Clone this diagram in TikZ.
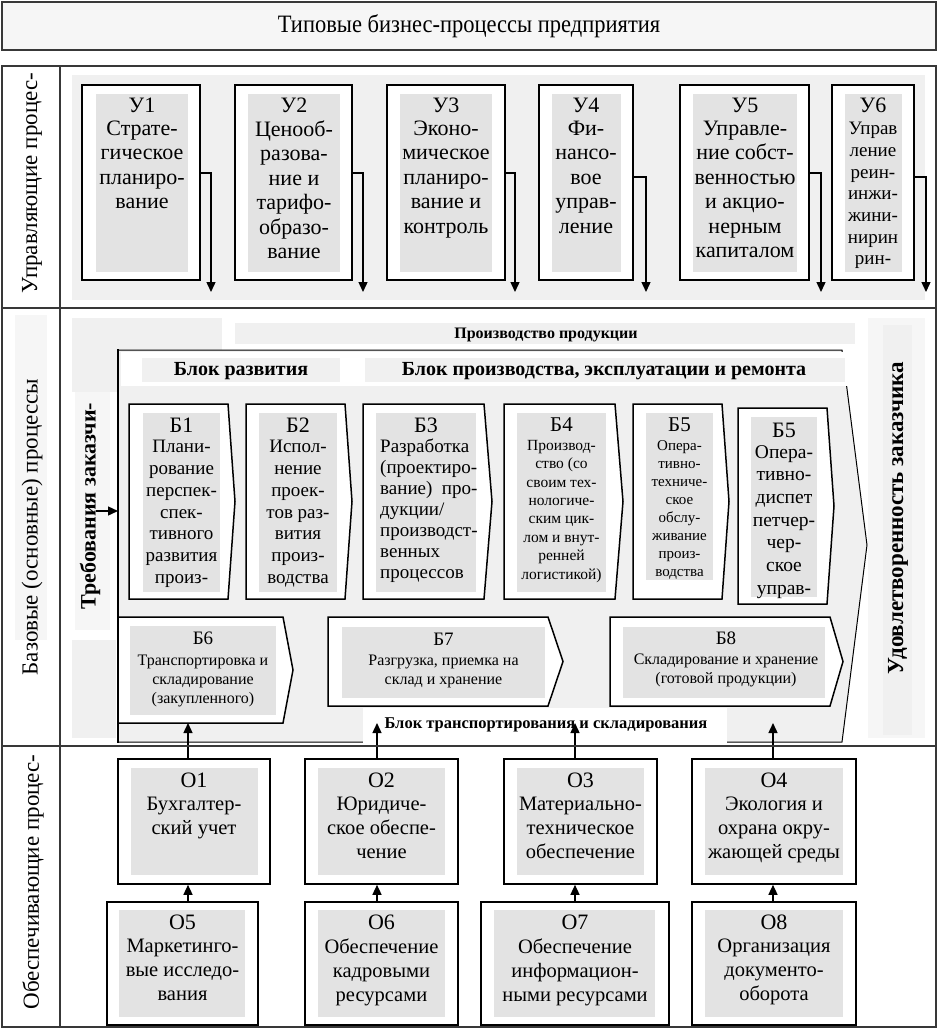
\documentclass[tikz,border=0pt]{standalone}
\usepackage{fontspec}
\setmainfont{Liberation Serif}
\usetikzlibrary{arrows.meta,fit}
\definecolor{ingray}{gray}{0.89}
\definecolor{bggray}{gray}{0.94}
\definecolor{lgray}{gray}{0.965}
\definecolor{secline}{gray}{0.22}
\newcommand\myfs[2]{\fontsize{#1}{#2}\selectfont}
\tikzset{
  sec/.style={draw=secline, line width=1.5pt, inner sep=0pt, rectangle},
  sline/.style={draw=secline, line width=1.5pt},
  obox/.style={draw=black, line width=1.6pt, fill=white, inner sep=0pt, rectangle},
  chev/.style={draw=black, line width=1.5pt, fill=white},
  arr/.style={line width=1.4pt, -{Triangle[length=10pt,width=9pt]}},
  lbl/.style={inner sep=0pt, anchor=center, font=\myfs{22}{22}},
  slbl/.style={inner sep=0pt, anchor=center, font=\myfs{19}{19}},
  body/.style={inner sep=0pt, anchor=north, align=center},
  uT/.style={body, font=\myfs{22}{24.5}},
  bT/.style={body, font=\myfs{19}{21.8}},
  oT/.style={body, font=\myfs{20.5}{24}},
  sT/.style={body, font=\myfs{16}{19}},
  secl/.style={rotate=90, inner sep=0pt, font=\myfs{23}{23}},
  boldl/.style={inner sep=0pt, font=\bfseries\myfs{20}{20}},
}
\begin{document}
\begin{tikzpicture}[x=1pt,y=-1pt]
\useasboundingbox (0,0) rectangle (939,1031);
\fill[white] (0,0) rectangle (939,1031);

% ---------- title
\node[sec, fill=lgray, fit={(2,2)(936,50)}] (title) {};
\node[inner sep=0pt, font=\myfs{25}{25}] (titlet) at (title.center) {\scalebox{0.9}[1]{Типовые бизнес-процессы предприятия}};

% ---------- section 1: management
\fill[bggray] (72,75) rectangle (925,300);
\node[secl] (l1) at (32,183) {Управляющие процес-};

\node[obox, fit={(82,85)(200,280)}] (u1) {};
\fill[ingray] (96,94) rectangle (188,272);
\node[lbl] (u1l) at (142,105) {У1};
\node[uT] (u1t) at (142,120.5) {Страте-\\гическое\\планиро-\\вание};

\node[obox, fit={(235,85)(352,280)}] (u2) {};
\fill[ingray] (248,94) rectangle (340,272);
\node[lbl] (u2l) at (294,105) {У2};
\node[uT] (u2t) at (294,120.5) {Ценооб-\\разова-\\ние и\\тарифо-\\образо-\\вание};

\node[obox, fit={(387,85)(505,280)}] (u3) {};
\fill[ingray] (400,94) rectangle (492,272);
\node[lbl] (u3l) at (446,105) {У3};
\node[uT] (u3t) at (446,120.5) {Эконо-\\мическое\\планиро-\\вание и\\контроль};

\node[obox, fit={(539,85)(633,280)}] (u4) {};
\fill[ingray] (552,94) rectangle (621,272);
\node[lbl] (u4l) at (586,105) {У4};
\node[uT] (u4t) at (586,120.5) {Фи-\\нансо-\\вое\\управ-\\ление};

\node[obox, fit={(680,85)(809,280)}] (u5) {};
\fill[ingray] (693,94) rectangle (797,272);
\node[lbl] (u5l) at (745,105) {У5};
\node[uT] (u5t) at (745,120.5) {Управле-\\ние собст-\\венностью\\и акцио-\\нерным\\капиталом};

\node[obox, fit={(832,85)(914,280)}] (u6) {};
\fill[ingray] (845,94) rectangle (902,272);
\node[lbl] (u6l) at (873,105) {У6};
\node[body, font=\myfs{19}{21.7}] (u6t) at (873,122) {Управ\\ление\\реин-\\инжи-\\жини-\\нирин\\рин-};

\coordinate (u1a) at (211,292);
\coordinate (u2a) at (363,292);
\coordinate (u3a) at (515,292);
\coordinate (u4a) at (646,292);
\coordinate (u5a) at (821,292);
\coordinate (u6a) at (926,292);
\draw[arr] ([yshift=9.5pt]u1.east) -| (u1a);
\draw[arr] ([yshift=9.5pt]u2.east) -| (u2a);
\draw[arr] ([yshift=9.5pt]u3.east) -| (u3a);
\draw[arr] ([yshift=5.5pt]u4.east) -| (u4a);
\draw[arr] ([yshift=9.5pt]u5.east) -| (u5a);
\draw[arr] ([yshift=5.5pt]u6.east) -| (u6a);

\node[sec, fit={(2,66)(936,308)}] (s1) {};
\draw[sline] (60,66) -- (60,308);

% ---------- section 2: base processes
\fill[lgray] (15,315) rectangle (47,640);
\fill[bggray] (72,318) rectangle (222,392);
\fill[lgray] (75,392) rectangle (110,630);
\fill[bggray] (72,640) rectangle (116,738);
\fill[lgray] (868,318) rectangle (925,738);
\fill[bggray] (883,325) rectangle (912,735);
\fill[bggray] (235,323) rectangle (855,344);
\node[boldl, font=\bfseries\myfs{16}{16}] (prod) at (546,335) {Производство продукции};

\node[secl] (l2) at (32,527) {Базовые (основные) процессы};
\node[secl, font=\bfseries\myfs{22}{22}] (req) at (90,506) {Требования заказчи-};
\node[secl, font=\bfseries\myfs{23}{23}] (sat) at (898,518) {Удовлетворенность заказчика};

% big arrow
\draw[line width=1pt, fill=bggray] (118,350) -- (842,350) -- (867,545) -- (842,742) -- (118,742) -- cycle;
\fill[white] (121,352) rectangle (858,386);
\draw[line width=2.2pt] (118,349) -- (118,743);
\fill[bggray] (142,358) rectangle (340,382);
\node[boldl] (bdev) at (241,371) {Блок развития};
\fill[bggray] (365,358) rectangle (845,382);
\node[boldl] (bprodl) at (604,371) {Блок производства, эксплуатации и ремонта};

\coordinate (rqs) at (96,511);
\coordinate (rq) at (118,511);
\draw[arr] (rqs) -- (rq);

% B boxes
\draw[chev] (129,404) -- (228,404) -- (235,501.5) -- (228,599) -- (129,599) -- cycle;
\fill[ingray] (143,413) rectangle (220,592);
\node[lbl] (b1l) at (181.5,425) {Б1};
\node[bT] (b1t) at (181.5,440) {Плани-\\рование\\перспек-\\спек-\\тивного\\развития\\произ-};

\draw[chev] (246,404) -- (345,404) -- (352,501.5) -- (345,599) -- (246,599) -- cycle;
\fill[ingray] (259,413) rectangle (337,592);
\node[lbl] (b2l) at (298,425) {Б2};
\node[bT] (b2t) at (298,440) {Испол-\\нение\\проек-\\тов раз-\\вития\\произ-\\водства};

\draw[chev] (363,404) -- (484,404) -- (492,501.5) -- (484,599) -- (363,599) -- cycle;
\fill[ingray] (376,413) rectangle (476,592);
\node[lbl] (b3l) at (426,425) {Б3};
\node[body, anchor=north west, align=left, font=\myfs{19}{21}] (b3t) at (380,439) {Разработка\\(проектиро-\\вание)~~про-\\дукции/\\производст-\\венных\\процессов};

\draw[chev] (504,404) -- (615,404) -- (623,501.5) -- (615,599) -- (504,599) -- cycle;
\fill[ingray] (517,413) rectangle (606,592);
\node[lbl, font=\myfs{21}{21}] (b4l) at (561.5,425) {Б4};
\node[body, font=\myfs{15.5}{18.4}] (b4t) at (561.5,440) {Производ-\\ство (со\\своим тех-\\нологиче-\\ским цик-\\лом и внут-\\ренней\\логистикой)};

\draw[chev] (633,404) -- (722,404) -- (729,501.5) -- (722,599) -- (633,599) -- cycle;
\fill[ingray] (646,413) rectangle (713,580);
\node[lbl, font=\myfs{21}{21}] (b5l) at (679.5,425) {Б5};
\node[body, font=\myfs{15}{18}] (b5t) at (679.5,440) {Опера-\\тивно-\\техниче-\\ское\\обслу-\\живание\\произ-\\водства};

\draw[chev] (738,408) -- (827,408) -- (834,506) -- (827,604) -- (738,604) -- cycle;
\fill[ingray] (751,417) rectangle (817,597);
\node[lbl] (b5bl) at (784,430) {Б5};
\node[body, font=\myfs{19.5}{22.7}] (b5bt) at (784,445) {Опера-\\тивно-\\диспет\\петчер-\\чер-\\ское\\управ-};

\draw[chev] (118,617) -- (283,617) -- (293,670) -- (283,723) -- (118,723) -- cycle;
\fill[ingray] (130,626) rectangle (276,715);
\node[slbl] (b6l) at (203,638) {Б6};
\node[sT] (b6t) at (203,655) {Транспортировка и\\складирование\\(закупленного)};

\draw[chev] (328,617) -- (548,617) -- (563,661.5) -- (548,706) -- (328,706) -- cycle;
\fill[ingray] (342,627) rectangle (545,698);
\node[slbl] (b7l) at (443.5,639) {Б7};
\node[sT] (b7t) at (443.5,655) {Разгрузка, приемка на\\склад и хранение};

\draw[chev] (610,617) -- (830,617) -- (843,661.5) -- (830,706) -- (610,706) -- cycle;
\fill[ingray] (623,627) rectangle (825,698);
\node[slbl] (b8l) at (726,638) {Б8};
\node[sT] (b8t) at (726,654) {Складирование и хранение\\(готовой продукции)};

\fill[white] (363,708) rectangle (727,743);
\node[boldl, font=\bfseries\myfs{16.5}{16.5}] (btrans) at (546,725) {Блок транспортирования и складирования};

\node[sec, fit={(2,308)(936,746)}] (s2) {};
\draw[sline] (60,308) -- (60,746);

% ---------- section 3: support
\node[secl] (l3) at (33,882) {Обеспечивающие процес-};

\node[obox, fit={(118,759)(270,884)}] (o1) {};
\fill[ingray] (131,768) rectangle (258,875);
\node[lbl] (o1l) at (194,780) {О1};
\node[oT] (o1t) at (194,796.5) {Бухгалтер-\\ский учет};

\node[obox, fit={(305,759)(458,884)}] (o2) {};
\fill[ingray] (318,768) rectangle (445,875);
\node[lbl] (o2l) at (381.5,780) {О2};
\node[oT] (o2t) at (381.5,796.5) {Юридиче-\\ское обеспе-\\чение};

\node[obox, fit={(504,759)(657,884)}] (o3) {};
\fill[ingray] (517,768) rectangle (644,875);
\node[lbl] (o3l) at (580.5,780) {О3};
\node[oT] (o3t) at (580.5,796.5) {Материально-\\техническое\\обеспечение};

\node[obox, fit={(692,759)(856,884)}] (o4) {};
\fill[ingray] (705,768) rectangle (843,875);
\node[lbl] (o4l) at (774,780) {О4};
\node[oT] (o4t) at (774,796.5) {Экология и\\охрана окру-\\жающей среды};

\node[obox, fit={(107,902)(258,1025)}] (o5) {};
\fill[ingray] (119,910) rectangle (245,1017);
\node[lbl] (o5l) at (182.5,922) {О5};
\node[oT] (o5t) at (182.5,938.5) {Маркетинго-\\вые исследо-\\вания};

\node[obox, fit={(305,902)(458,1025)}] (o6) {};
\fill[ingray] (318,910) rectangle (445,1017);
\node[lbl] (o6l) at (381.5,922) {О6};
\node[oT] (o6t) at (381.5,938.5) {Обеспечение\\кадровыми\\ресурсами};

\node[obox, fit={(481,902)(669,1025)}] (o7) {};
\fill[ingray] (494,910) rectangle (655,1017);
\node[lbl] (o7l) at (575,922) {О7};
\node[oT] (o7t) at (575,938.5) {Обеспечение\\информацион-\\ными ресурсами};

\node[obox, fit={(692,902)(856,1025)}] (o8) {};
\fill[ingray] (705,910) rectangle (843,1017);
\node[lbl] (o8l) at (774,922) {О8};
\node[oT] (o8t) at (774,938.5) {Организация\\документо-\\оборота};

\coordinate (t1) at (188,723);
\coordinate (t2) at (377,723);
\coordinate (t3) at (575,723);
\coordinate (t4) at (773,723);
\draw[arr] (o1.north -| t1) -- (t1);
\draw[arr] (o2.north -| t2) -- (t2);
\draw[arr] (o3.north -| t3) -- (t3);
\draw[arr] (o4.north -| t4) -- (t4);
\draw[arr] (o5.north -| t1) -- (o1.south -| t1);
\draw[arr] (o6.north -| t2) -- (o2.south -| t2);
\draw[arr] (o7.north -| t3) -- (o3.south -| t3);
\draw[arr] (o8.north -| t4) -- (o4.south -| t4);

\node[sec, fit={(2,746)(936,1027)}] (s3) {};
\draw[sline] (60,746) -- (60,1027);
\end{tikzpicture}
\end{document}
